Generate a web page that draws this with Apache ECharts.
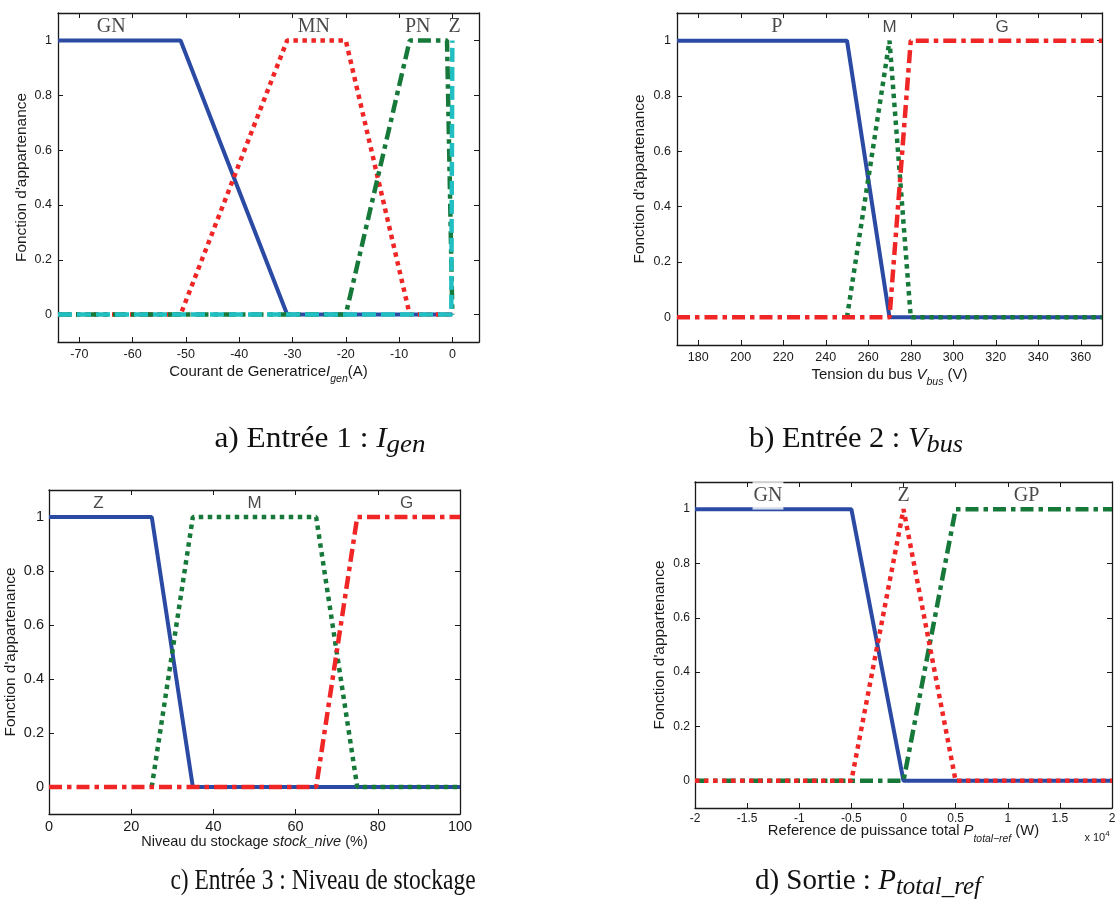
<!DOCTYPE html>
<html>
<head>
<meta charset="utf-8">
<script src="https://cdn.jsdelivr.net/npm/echarts@6/dist/echarts.min.js"></script>
<style>
  html, body { margin: 0; padding: 0; background: #fff; }
  #chart { width: 1119px; height: 920px; }
</style>
</head>
<body>
<div id="chart"></div>
<script>
// ---- (a) Entrée 1 : courant de génératrice I_gen (A)
const igenTicks = [-70, -60, -50, -40, -30, -20, -10, 0];
const igenGN = [[-74, 1], [-51, 1], [-31, 0], [0, 0]];
const igenMN = [[-74, 0], [-51, 0], [-31, 1], [-20, 1], [-8, 0], [0, 0]];
const igenPN = [[-74, 0], [-20, 0], [-8, 1], [-1, 1], [0, 0]];
const igenZ = [[-74, 0], [-0.2, 0], [0, 1]];
const igenLabels = [['GN', -64, 1.05], ['MN', -26, 1.05], ['PN', -6.5, 1.05], ['Z', 0.4, 1.05]];

// ---- (b) Entrée 2 : tension du bus V_bus (V)
const vbusTicks = [180, 200, 220, 240, 260, 280, 300, 320, 340, 360];
const vbusP = [[170, 1], [250, 1], [270, 0], [370, 0]];
const vbusM = [[250, 0], [270, 1], [280, 0], [370, 0]];
const vbusG = [[170, 0], [270, 0], [280, 1], [370, 1]];
const vbusLabels = [['P', 217, 1.05], ['M', 270, 1.05], ['G', 323, 1.05]];

// ---- (c) Entrée 3 : niveau du stockage (%)
const stockTicks = [0, 20, 40, 60, 80, 100];
const stockZ = [[0, 1], [25, 1], [35, 0], [100, 0]];
const stockM = [[25, 0], [35, 1], [65, 1], [75, 0], [100, 0]];
const stockG = [[0, 0], [65, 0], [75, 1], [100, 1]];
const stockLabels = [['Z', 12, 1.05], ['M', 50, 1.05], ['G', 87, 1.05]];

// ---- (d) Sortie : référence de puissance totale P_total_ref (W)
const pTicks = [-20000, -15000, -10000, -5000, 0, 5000, 10000, 15000, 20000];
const pGN = [[-20000, 1], [-5000, 1], [0, 0], [20000, 0]];
const pZ = [[-20000, 0], [-5000, 0], [0, 1], [5000, 0], [20000, 0]];
const pGP = [[-20000, 0], [0, 0], [5000, 1], [20000, 1]];
const pLabels = [['GN', -13000, 1.05], ['Z', 0, 1.05], ['GP', 11800, 1.05]];

// membership degree axis
const muTicks = [0, 0.2, 0.4, 0.6, 0.8, 1];

// ---- styling
const BLUE = '#2b4aa3', RED = '#f02626', GREEN = '#16793a', CYAN = '#22bfc2';
const SOLID = 'solid', DOT = [4.5, 4.5], DASHDOT = [13, 5, 4.5, 5], DASH = [14, 5];
const INK = '#1a1a1a';
const SANS = 'Liberation Sans, Arial, sans-serif';
const SERIF = 'Liberation Serif, Times New Roman, serif';

function nameRich(fs) {
  return {
    it: { fontFamily: SANS, fontStyle: 'italic', fontSize: fs, lineHeight: 26, color: INK },
    sub: { fontFamily: SANS, fontStyle: 'italic', fontSize: fs * 0.7, lineHeight: 12, verticalAlign: 'bottom', color: INK }
  };
}

const panels = [
  {
    rect: { left: 58, top: 13, width: 421, height: 329 },
    xRange: [-74, 5], xTicks: igenTicks, xFmt: v => String(v), tickFont: 12.5, tickMargin: 6,
    xName: 'Courant de Generatrice{it|I}{sub|gen}(A)', nameFont: 15, xGap: 17, yGap: 29,
    lines: [[igenGN, BLUE, SOLID], [igenMN, RED, DOT], [igenPN, GREEN, DASHDOT], [igenZ, CYAN, DASH]],
    labels: igenLabels, serif: ['GN', 'MN', 'PN', 'Z'], boxed: []
  },
  {
    rect: { left: 677, top: 13, width: 425, height: 332 },
    xRange: [170, 370], xTicks: vbusTicks, xFmt: v => String(v), tickFont: 12.5, tickMargin: 6,
    xName: 'Tension du bus {it|V}{sub|bus} (V)', nameFont: 15, xGap: 17, yGap: 30,
    lines: [[vbusP, BLUE, SOLID], [vbusM, GREEN, DOT], [vbusG, RED, DASHDOT]],
    labels: vbusLabels, serif: ['P'], boxed: []
  },
  {
    rect: { left: 49, top: 490, width: 411, height: 324 },
    xRange: [0, 100], xTicks: stockTicks, xFmt: v => String(v), tickFont: 14.5, tickMargin: 5,
    xName: 'Niveau du stockage {it|stock_nive} (%)', nameFont: 14.5, xGap: 15, yGap: 31,
    lines: [[stockZ, BLUE, SOLID], [stockM, GREEN, DOT], [stockG, RED, DASHDOT]],
    labels: stockLabels, serif: [], boxed: []
  },
  {
    rect: { left: 695, top: 482, width: 417, height: 326 },
    xRange: [-20000, 20000], xTicks: pTicks, xFmt: v => String(v / 10000), tickFont: 12, tickMargin: 5,
    xName: 'Reference de puissance total {it|P}{sub|total\u2212ref} (W)', nameFont: 14.8, xGap: 10, yGap: 28,
    lines: [[pGN, BLUE, SOLID], [pGP, GREEN, DASHDOT], [pZ, RED, DOT]],
    labels: pLabels, serif: ['GN', 'Z', 'GP'], boxed: ['GN']
  }
];

const grid = [], xAxis = [], yAxis = [], series = [];
const axisLineStyle = { color: INK, width: 1.3 };
const tickStyle = { color: INK, width: 1 };

panels.forEach((p, i) => {
  grid.push(Object.assign({ containLabel: false }, p.rect));
  const yRange = [-0.1, 1.1];
  // bottom / top x axes
  xAxis.push({
    gridIndex: i, type: 'value', position: 'bottom', min: p.xRange[0], max: p.xRange[1],
    axisLine: { show: true, onZero: false, lineStyle: axisLineStyle },
    axisTick: { show: true, inside: true, length: 5, customValues: p.xTicks, lineStyle: tickStyle },
    axisLabel: { show: true, customValues: p.xTicks, formatter: p.xFmt, fontFamily: SANS, fontSize: p.tickFont, color: INK, margin: p.tickMargin },
    splitLine: { show: false },
    name: p.xName, nameLocation: 'middle', nameGap: p.xGap, nameMoveOverlap: false,
    nameTextStyle: { fontFamily: SANS, fontSize: p.nameFont, lineHeight: 26, color: INK, rich: nameRich(p.nameFont) }
  });
  xAxis.push({
    gridIndex: i, type: 'value', position: 'top', min: p.xRange[0], max: p.xRange[1],
    axisLine: { show: true, onZero: false, lineStyle: axisLineStyle },
    axisTick: { show: true, inside: true, length: 5, customValues: p.xTicks, lineStyle: tickStyle },
    axisLabel: { show: false }, splitLine: { show: false }
  });
  // left / right y axes
  yAxis.push({
    gridIndex: i, type: 'value', position: 'left', min: yRange[0], max: yRange[1],
    axisLine: { show: true, onZero: false, lineStyle: axisLineStyle },
    axisTick: { show: true, inside: true, length: 5, customValues: muTicks, lineStyle: tickStyle },
    axisLabel: { show: true, customValues: muTicks, formatter: v => String(+v.toFixed(1)), fontFamily: SANS, fontSize: p.tickFont, color: INK, margin: p.tickMargin },
    splitLine: { show: false },
    name: "Fonction d'appartenance", nameLocation: 'middle', nameGap: p.yGap, nameMoveOverlap: false,
    nameTextStyle: { fontFamily: SANS, fontSize: 15.4, color: INK }
  });
  yAxis.push({
    gridIndex: i, type: 'value', position: 'right', min: yRange[0], max: yRange[1],
    axisLine: { show: true, onZero: false, lineStyle: axisLineStyle },
    axisTick: { show: true, inside: true, length: 5, customValues: muTicks, lineStyle: tickStyle },
    axisLabel: { show: false }, splitLine: { show: false }
  });

  p.lines.forEach(([data, color, dash], k) => {
    series.push({
      type: 'line', xAxisIndex: 2 * i, yAxisIndex: 2 * i, data: data,
      symbol: 'none', showSymbol: false, silent: true, z: 2 + k * 0.01,
      lineStyle: { color: color, width: dash === SOLID ? 4 : 4.5, type: dash, cap: 'butt', join: 'bevel' }
    });
  });

  series.push({
    type: 'scatter', xAxisIndex: 2 * i, yAxisIndex: 2 * i, symbolSize: 0, silent: true, z: 6,
    data: p.labels.map(([n, x, y]) => {
      const serif = p.serif.indexOf(n) >= 0;
      const boxed = p.boxed.indexOf(n) >= 0;
      const label = { fontFamily: serif ? SERIF : SANS, fontSize: serif ? 20 : 17 };
      if (boxed) { label.backgroundColor = '#fff'; label.padding = [4, 1, 4, 1]; }
      return { name: n, value: [x, y], label: label };
    }),
    label: { show: true, position: 'inside', formatter: '{b}', color: INK }
  });
});

// figure captions under each panel
const capRich = {
  i: { fontFamily: SERIF, fontStyle: 'italic', fontSize: 29, lineHeight: 38, fill: '#111' },
  s: { fontFamily: SERIF, fontStyle: 'italic', fontSize: 25, lineHeight: 25, verticalAlign: 'bottom', fill: '#111' }
};
function caption(text, x, y, sx) {
  return {
    type: 'text', x: x, y: y, scaleX: sx || 1, silent: true,
    style: {
      text: text, fontFamily: SERIF, fontSize: 29, lineHeight: 38, fill: '#111',
      align: 'center', verticalAlign: 'middle', textAlign: 'center', textVerticalAlign: 'middle',
      rich: capRich
    }
  };
}

const graphic = [
  caption('a) Entrée 1 : {i|I}{s|gen}', 320, 439, 1.08),
  caption('b) Entrée 2 : {i|V}{s|bus}', 856, 439, 1.05),
  caption('c) Entrée 3 : Niveau de stockage', 323, 881, 0.81),
  caption('d) Sortie : {i|P}{s|total_ref}', 868, 881, 1.0),
  {
    type: 'text', x: 1097, y: 838, silent: true,
    style: {
      text: 'x 10{sup|4}', fontFamily: SANS, fontSize: 11, fill: INK, lineHeight: 16,
      align: 'center', verticalAlign: 'middle', textAlign: 'center', textVerticalAlign: 'middle',
      rich: { sup: { fontFamily: SANS, fontSize: 8, lineHeight: 10, verticalAlign: 'top', fill: INK } }
    }
  }
];

const chart = echarts.init(document.getElementById('chart'), null, { renderer: 'canvas' });
chart.setOption({
  backgroundColor: '#fff',
  animation: false,
  grid: grid,
  xAxis: xAxis,
  yAxis: yAxis,
  series: series,
  graphic: graphic
});
</script>
</body>
</html>
